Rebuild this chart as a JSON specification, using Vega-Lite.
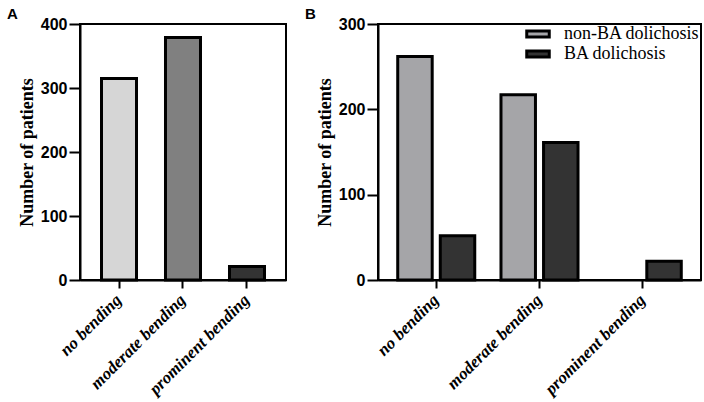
{
  "$schema": "https://vega.github.io/schema/vega-lite/v6.json",
  "background": "white",
  "padding": {"left": 6, "top": 6, "right": 4, "bottom": 4},
  "spacing": 92,
  "bounds": "flush",
  "resolve": {"scale": {"color": "independent"}, "legend": {"color": "independent"}},
  "datasets": {
    "overall": [
      {"category": "no bending", "count": 315},
      {"category": "moderate bending", "count": 379},
      {"category": "prominent bending", "count": 21}
    ],
    "bygroup": [
      {"category": "no bending", "group": "non-BA dolichosis", "count": 262},
      {"category": "no bending", "group": "BA dolichosis", "count": 52},
      {"category": "moderate bending", "group": "non-BA dolichosis", "count": 217},
      {"category": "moderate bending", "group": "BA dolichosis", "count": 161},
      {"category": "prominent bending", "group": "non-BA dolichosis", "count": 0},
      {"category": "prominent bending", "group": "BA dolichosis", "count": 22}
    ]
  },
  "hconcat": [
    {
      "width": 206,
      "height": 256,
      "title": {"text": "A", "anchor": "start", "frame": "group", "dx": -73, "offset": -6},
      "data": {"name": "overall"},
      "mark": {"type": "bar", "stroke": "black", "strokeWidth": 3},
      "encoding": {
        "x": {
          "field": "category", "type": "nominal", "sort": null, "title": null,
          "scale": {"paddingInner": 0.453, "paddingOuter": 0.336}
        },
        "y": {
          "field": "count", "type": "quantitative", "title": "Number of patients",
          "scale": {"domain": [0, 400], "nice": false},
          "axis": {"values": [0, 100, 200, 300, 400]}
        },
        "color": {
          "field": "category", "type": "nominal", "sort": null, "legend": null,
          "scale": {"range": ["#d6d6d6", "#808080", "#333333"]}
        }
      }
    },
    {
      "width": 323,
      "height": 256,
      "title": {"text": "B", "anchor": "start", "frame": "group", "dx": -73, "offset": -6},
      "data": {"name": "bygroup"},
      "mark": {"type": "bar", "stroke": "black"},
      "encoding": {
        "x": {
          "field": "category", "type": "nominal", "sort": null, "title": null,
          "scale": {"paddingInner": 0.254, "paddingOuter": 0.191}
        },
        "xOffset": {
          "field": "group", "type": "nominal", "sort": ["non-BA dolichosis", "BA dolichosis"],
          "scale": {"paddingInner": 0.19, "paddingOuter": 0}
        },
        "y": {
          "field": "count", "type": "quantitative", "title": "Number of patients",
          "scale": {"domain": [0, 300], "nice": false},
          "axis": {"values": [0, 100, 200, 300]}
        },
        "strokeWidth": {"condition": {"test": "datum.count == 0", "value": 0}, "value": 3},
        "color": {
          "field": "group", "type": "nominal",
          "sort": ["non-BA dolichosis", "BA dolichosis"],
          "scale": {"domain": ["non-BA dolichosis", "BA dolichosis"], "range": ["#a5a5a8", "#333333"]},
          "legend": {
            "title": null,
            "orient": "none",
            "legendX": 151,
            "legendY": 1,
            "padding": 0,
            "symbolType": "M-1.5,-0.4H1.5V0.4H-1.5Z",
            "symbolSize": 225,
            "symbolStrokeColor": "black",
            "symbolStrokeWidth": 3,
            "symbolOpacity": 1,
            "labelFont": "Liberation Serif",
            "labelFontSize": 18,
            "labelColor": "black",
            "labelOffset": 17,
            "rowPadding": 2,
            "labelLimit": 300,
            "encode": {
              "labels": {
                "update": {
                  "font": {"value": "Liberation Serif"},
                  "fontSize": {"value": 18},
                  "fontWeight": {"value": "normal"},
                  "fill": {"value": "black"}
                }
              }
            }
          }
        }
      }
    }
  ],
  "config": {
    "view": {"stroke": "black", "strokeWidth": 2},
    "title": {"font": "Liberation Sans", "fontSize": 15, "fontWeight": "bold", "color": "black", "baseline": "alphabetic"},
    "legend": {"labelFont": "Liberation Serif", "labelFontSize": 18, "labelColor": "black"},
    "axis": {
      "domainColor": "black", "domainWidth": 2,
      "tickColor": "black", "tickWidth": 2,
      "labelColor": "black", "titleColor": "black",
      "grid": false
    },
    "axisY": {
      "labelFont": "Liberation Sans", "labelFontSize": 16, "labelFontWeight": "bold",
      "tickSize": 11, "labelPadding": 2,
      "titleFont": "Liberation Serif", "titleFontSize": 18, "titleFontWeight": "bold",
      "titlePadding": 4
    },
    "axisX": {
      "labelFont": "Liberation Serif", "labelFontSize": 17, "labelFontWeight": "bold",
      "labelFontStyle": "italic",
      "labelAngle": -45, "labelAlign": "right", "labelBaseline": "middle",
      "tickSize": 8, "labelPadding": 9
    }
  }
}
